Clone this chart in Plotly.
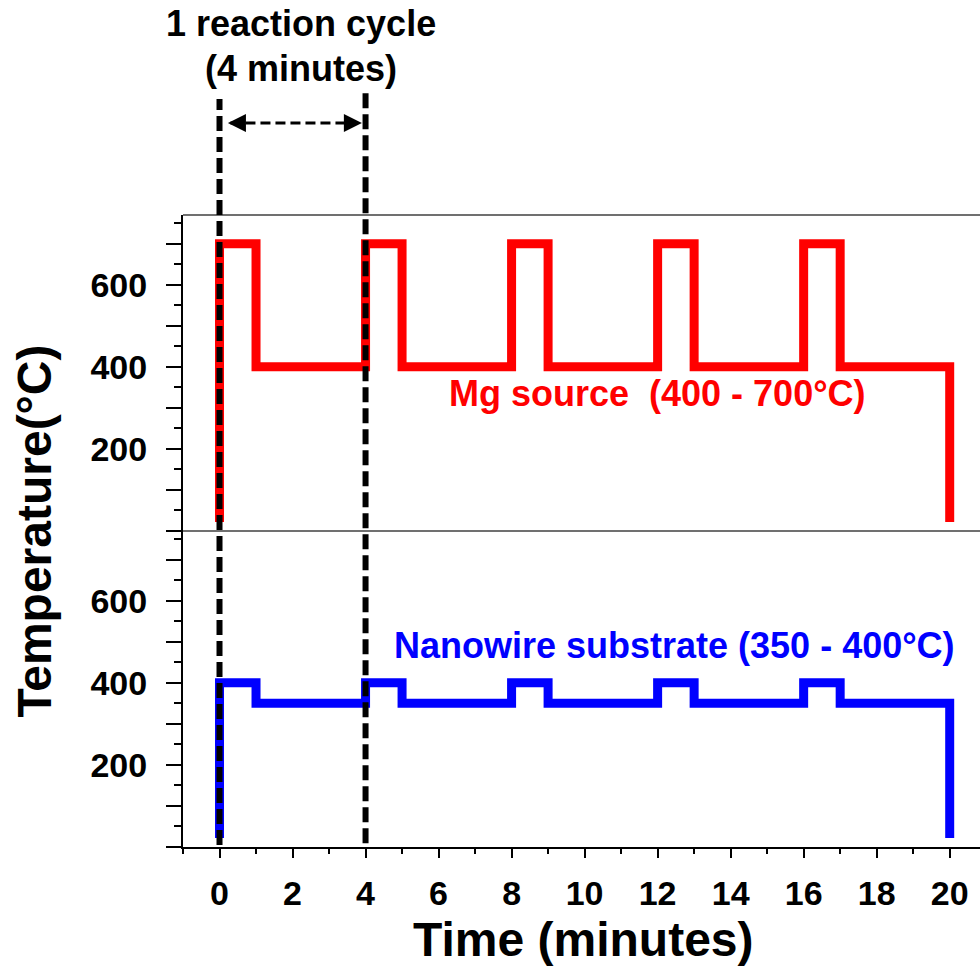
import plotly.graph_objects as go

# ---- data ----
time_points = [0, 0, 1, 4, 5, 8, 9, 12, 13, 16, 17, 20, 20]
mg_source_temp = [22, 700, 400, 700, 400, 700, 400, 700, 400, 700, 400, 400, 22]
substrate_temp = [22, 400, 350, 400, 350, 400, 350, 400, 350, 400, 350, 350, 22]
cycle_bounds = [0, 4]
x_tick_vals = [0, 2, 4, 6, 8, 10, 12, 14, 16, 18, 20]
y_tick_vals = [0, 100, 200, 300, 400, 500, 600, 700]
y_tick_text = ["", "", "200", "", "400", "", "600", ""]
y_minor_vals = [50, 150, 250, 350, 450, 550, 650, 750]

FONT = "Liberation Sans, Arial, sans-serif"
RED = "#FF0000"
BLUE = "#0000FF"

fig = go.Figure()
fig.add_trace(go.Scatter(x=time_points, y=mg_source_temp, mode="lines",
                         line=dict(color=RED, width=9, shape="hv"),
                         xaxis="x2", yaxis="y2", showlegend=False))
fig.add_trace(go.Scatter(x=time_points, y=substrate_temp, mode="lines",
                         line=dict(color=BLUE, width=9, shape="hv"),
                         xaxis="x", yaxis="y", showlegend=False))

yax = dict(range=[0, 770], tickmode="array", tickvals=y_tick_vals, ticktext=y_tick_text,
           ticks="outside", ticklen=15, tickwidth=2, tickcolor="black",
           showline=True, linecolor="black", linewidth=2, showgrid=False, zeroline=False,
           ticklabelstandoff=12,
           tickfont=dict(family=FONT, size=34, color="black", weight="bold"),
           minor=dict(tickmode="array", tickvals=y_minor_vals, ticks="outside",
                      ticklen=7, tickwidth=2, tickcolor="black", showgrid=False))

fig.update_layout(
    width=980, height=967, autosize=False,
    margin=dict(l=183, r=0, t=215, b=120),
    plot_bgcolor="white", paper_bgcolor="white",
    xaxis=dict(domain=[0, 1], anchor="y", range=[-1.0, 20.83],
               tickmode="array", tickvals=x_tick_vals,
               ticks="outside", ticklen=9, tickwidth=2, tickcolor="black",
               showline=True, linecolor="black", linewidth=2,
               showgrid=False, zeroline=False, ticklabelstandoff=6,
               tickfont=dict(family=FONT, size=34, color="black", weight="bold"),
               minor=dict(dtick=1, tick0=0, ticks="outside", ticklen=5, tickwidth=2,
                          tickcolor="black", showgrid=False)),
    xaxis2=dict(domain=[0, 1], anchor="y2", matches="x", showticklabels=False,
                showline=False, showgrid=False, zeroline=False, ticks=""),
    yaxis=dict(domain=[0, 0.5], anchor="x", **yax),
    yaxis2=dict(domain=[0.5, 1], anchor="x2", **yax),
)

# frame lines
for yy in [1.0, 0.5]:
    fig.add_shape(type="line", xref="paper", yref="paper", x0=0, x1=1, y0=yy, y1=yy,
                  line=dict(color="#404040", width=1.5))

# cycle boundary dashed lines
cycle_top = [1.1835, 1.193]
cycle_bottom = [0.003, 0.006]
for xb, yt, ybm in zip(cycle_bounds, cycle_top, cycle_bottom):
    fig.add_shape(type="line", xref="x", yref="paper", x0=xb, x1=xb, y0=ybm, y1=yt,
                  line=dict(color="black", width=6, dash="15px,6px"), layer="above")

# double-headed dashed arrow
arrow_y = 1.1456
fig.add_shape(type="line", xref="x", yref="paper", x0=0.3, x1=3.75, y0=arrow_y, y1=arrow_y,
              line=dict(color="black", width=3, dash="10px,5px"))
fig.add_annotation(x=3.9, y=arrow_y, xref="x", yref="paper", ax=-14, ay=0, text="",
                   showarrow=True, arrowhead=2, arrowsize=1.2, arrowwidth=3, arrowcolor="black")
fig.add_annotation(x=0.23, y=arrow_y, xref="x", yref="paper", ax=14, ay=0, text="",
                   showarrow=True, arrowhead=2, arrowsize=1.2, arrowwidth=3, arrowcolor="black")

# texts
fig.add_annotation(x=2.23, y=1.303, xref="x", yref="paper", text="1 reaction cycle",
                   showarrow=False, xanchor="center", yanchor="middle",
                   font=dict(family=FONT, size=36, color="black", weight="bold"))
fig.add_annotation(x=2.22, y=1.232, xref="x", yref="paper", text="(4 minutes)",
                   showarrow=False, xanchor="center", yanchor="middle",
                   font=dict(family=FONT, size=36, color="black", weight="bold"))
fig.add_annotation(x=12.0, y=334, xref="x2", yref="y2", text="Mg source \u00a0(400 - 700°C)",
                   showarrow=False, xanchor="center", yanchor="middle",
                   font=dict(family=FONT, size=36, color=RED, weight="bold"))
fig.add_annotation(x=12.46, y=492, xref="x", yref="y", text="Nanowire substrate (350 - 400°C)",
                   showarrow=False, xanchor="center", yanchor="middle",
                   font=dict(family=FONT, size=36, color=BLUE, weight="bold"))

# axis titles
fig.add_annotation(x=-0.1875, y=0.5, xref="paper", yref="paper", text="Temperature(°C)",
                   textangle=-90, showarrow=False, xanchor="center", yanchor="middle",
                   font=dict(family=FONT, size=48, color="black", weight="bold"))
fig.add_annotation(x=0.503, y=-0.1456, xref="paper", yref="paper", text="Time (minutes)",
                   showarrow=False, xanchor="center", yanchor="middle",
                   font=dict(family=FONT, size=48, color="black", weight="bold"))

fig.write_html("out.html")
